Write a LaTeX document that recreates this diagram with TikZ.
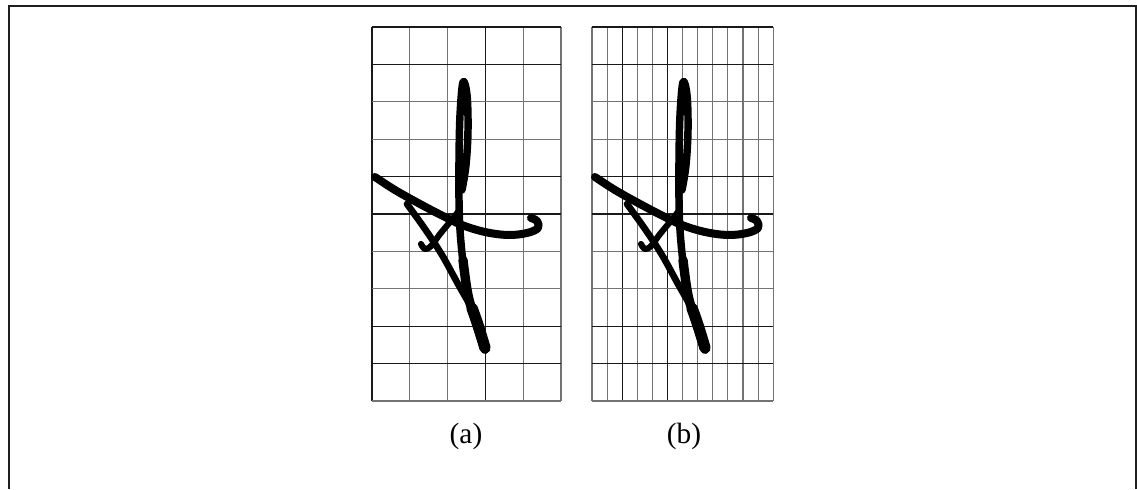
\documentclass[tikz,border=0pt]{standalone}
\usepackage{fontspec}
\setmainfont{Liberation Serif}
\usetikzlibrary{positioning}

\begin{document}
\begin{tikzpicture}[
  x=0.75pt, y=-0.75pt,
  frame/.style  ={draw=black!88, line width=1.5pt},
  gridlt/.style ={draw=black!55, line width=0.8pt},
  griddk/.style ={draw=black!90, line width=0.8pt},
  ink/.style    ={draw=black, line width=6pt, line cap=round, line join=round},
  caption/.style={font=\fontsize{22}{26}\selectfont, inner sep=0pt},
  pics/glyph/.style={code={
    \draw[ink] plot[smooth, tension=0.6] coordinates {(375,177) (395,190) (420,204) (443,216) (462,225)
      (485,232) (508,235) (527,233) (538,228) (537,221) (531,218)};
    \draw[ink, line width=5pt] plot[smooth, tension=0.6] coordinates {(407,204) (425,229) (442,255) (458,284) (470,305)};
    \draw[ink, line width=4.6pt] plot[smooth, tension=0.6] coordinates {(421,244) (425,249) (431,246) (440,234) (450,222) (458,212)};
    \draw[ink, line width=5.6pt] plot[smooth, tension=0.6] coordinates {(485,350) (476,322) (468,295) (463,262) (460,230) (459,200)
      (459,160) (460,115) (463,82) (467,95) (468,130) (466,165) (462,190)};
    \draw[ink, line width=7pt] plot[smooth, tension=0.6] coordinates {(463,260) (468,295) (476,322) (485,349)};
    \draw[ink, line width=8.5pt] plot[smooth, tension=0.6] coordinates {(485,348) (478,325) (472,308)};
  }}
]
\useasboundingbox (0,0) rectangle (1137,489);

\draw[frame] (9,489) -- (9,6) -- (1136,6) -- (1136,489);

% grid (a)
\foreach \i/\s in {0/griddk,1/gridlt,2/gridlt,3/griddk,4/gridlt,5/gridlt}
  \draw[\s] ({372+37.8*\i},27) -- ++(0,374);
\foreach \j/\s in {0/griddk,1/griddk,2/gridlt,3/gridlt,4/griddk,5/griddk,6/gridlt,7/gridlt,8/griddk,9/griddk,10/gridlt}
  \draw[\s] (372,{27+37.4*\j}) -- ++(189,0);

% grid (b)
\foreach \i/\s in {0/gridlt,1/gridlt,2/griddk,3/gridlt,4/gridlt,5/griddk,6/gridlt,7/gridlt,8/gridlt,9/gridlt,10/gridlt,11/gridlt,12/gridlt}
  \draw[\s] ({592+15.1*\i},27) -- ++(0,374);
\foreach \j/\s in {0/griddk,1/griddk,2/gridlt,3/gridlt,4/griddk,5/griddk,6/gridlt,7/gridlt,8/griddk,9/griddk,10/gridlt}
  \draw[\s] (592,{27+37.4*\j}) -- ++(181.2,0);

\pic at (0,0) {glyph};
\pic at (220,0) {glyph};

\node[caption] (capA) at (466,436) {(a)};
\node[caption] (capB) at (684,436) {(b)};
\end{tikzpicture}
\end{document}
